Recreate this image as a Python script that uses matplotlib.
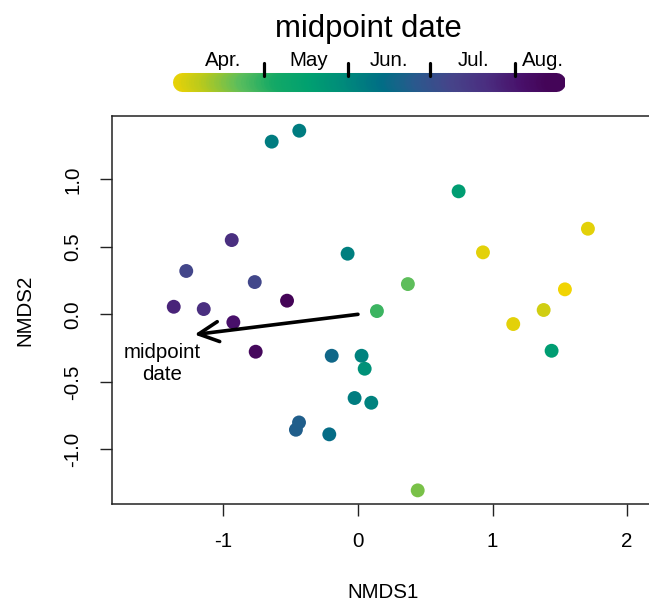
import numpy as np
import matplotlib
matplotlib.use("Agg")
import matplotlib.pyplot as plt
from matplotlib.colors import LinearSegmentedColormap, Normalize
from matplotlib.collections import LineCollection

plt.rcParams['font.family'] = ['Liberation Sans', 'DejaVu Sans']

# NMDS scores of the sites
nmds1 = [-0.641, -0.436, -0.938, -1.276, -0.767, -0.527, -1.369, -1.146, -0.077,
         0.748, 1.709, 0.929, 0.371, 1.538, 1.380, 0.141, -0.926, -0.760,
         -0.195, 0.027, 0.050, -0.025, 0.099, -0.438, -0.461, -0.213, 1.154,
         1.439, 0.444]
nmds2 = [1.279, 1.360, 0.550, 0.321, 0.239, 0.101, 0.056, 0.039, 0.449,
         0.911, 0.634, 0.459, 0.224, 0.185, 0.032, 0.024, -0.059, -0.277,
         -0.307, -0.307, -0.403, -0.620, -0.655, -0.801, -0.855, -0.889, -0.072,
         -0.270, -1.304]
# midpoint date as day of year
midpoint_doy = [160, 160, 205, 191, 190, 228, 209, 205, 158,
                142, 92, 92, 114, 89, 96, 120, 218, 225,
                171, 157, 149, 160, 157, 176, 176, 168, 92,
                142, 110]

# fitted vector for midpoint date
vec_x, vec_y = -1.214, -0.150

# colour bar
cbar_range = (87.8, 231.4)
month_starts = [121, 152, 182, 213]
month_names = ['Apr.', 'May', 'Jun.', 'Jul.', 'Aug.']
month_label_pos = [106.2, 137.4, 167.1, 197.8, 223.4]

pal = ['#F7D500', '#B6C91E', '#5DBE5C', '#14A966', '#00A070', '#008A7B',
       '#006F85', '#2A598D', '#46448A', '#4A2E80', '#48106A', '#420050']
cmap = LinearSegmentedColormap.from_list('mid', pal)
norm = Normalize(*cbar_range)

fig = plt.figure(figsize=(6.49, 6.02), dpi=100)
W, H = 649, 602

# main plot
ax = fig.add_axes([111.7 / W, 1 - 504 / H, (654 - 111.7) / W, (504 - 116) / H])
ax.scatter(nmds1, nmds2, s=100, c=[cmap(norm(d)) for d in midpoint_doy],
           edgecolors='none', zorder=3)
ax.annotate('', xy=(vec_x, vec_y), xytext=(0, 0),
            arrowprops=dict(arrowstyle='->,head_length=0.72,head_width=0.36',
                            mutation_scale=20, lw=2.6, color='black',
                            shrinkA=0, shrinkB=0), zorder=4)
ax.text(-1.458, -0.364, 'midpoint\ndate', ha='center', va='center',
        fontsize=14.8, linespacing=1.2)

ax.set_xlim(-1.83, 2.2)
ax.set_ylim(-1.405, 1.469)
ax.set_xticks([-1, 0, 1, 2])
ax.set_xticklabels(['-1', '0', '1', '2'])
ax.set_yticks([-1.0, -0.5, 0.0, 0.5, 1.0])
ax.set_yticklabels(['-1.0', '-0.5', '0.0', '0.5', '1.0'], rotation=90, va='center')
ax.tick_params(length=8.5, width=1.0, labelsize=14.8, color='#222222')
ax.tick_params(axis='x', pad=12)
ax.tick_params(axis='y', pad=12.5)
for sp in ax.spines.values():
    sp.set_linewidth(1.1)
    sp.set_color('#222222')

fig.text(383 / W, 1 - 592 / H, 'NMDS1', ha='center', va='center', fontsize=14.8)
fig.text(25 / W, 1 - 310 / H, 'NMDS2', ha='center', va='center', fontsize=14.8,
         rotation=90)

# colour bar at the top
cax = fig.add_axes([173 / W, 1 - 100 / H, (565 - 173) / W, 50 / H])
cax.set_xlim(*cbar_range)
cax.set_ylim(0, 50)
cax.axis('off')
cap = 9.5 / 2.73
xs = np.linspace(cbar_range[0] + cap, cbar_range[1] - cap, 150)
segs = [[(xs[i], 18.5), (xs[i + 1], 18.5)] for i in range(len(xs) - 1)]
lc = LineCollection(segs, colors=[cmap(norm(v)) for v in xs[:-1]],
                    linewidths=13.7, capstyle='round')
cax.add_collection(lc)
for m in month_starts:
    cax.plot([m, m], [24, 37.3], color='black', lw=2.3,
             solid_capstyle='round', clip_on=False)
for name, pos in zip(month_names, month_label_pos):
    cax.text(pos, 34, name, ha='center', va='baseline', fontsize=14.8,
             clip_on=False)

fig.text(368.5 / W, 1 - 37 / H, 'midpoint date', ha='center', va='baseline',
         fontsize=22.4)

fig.savefig('out.png', dpi=100)
